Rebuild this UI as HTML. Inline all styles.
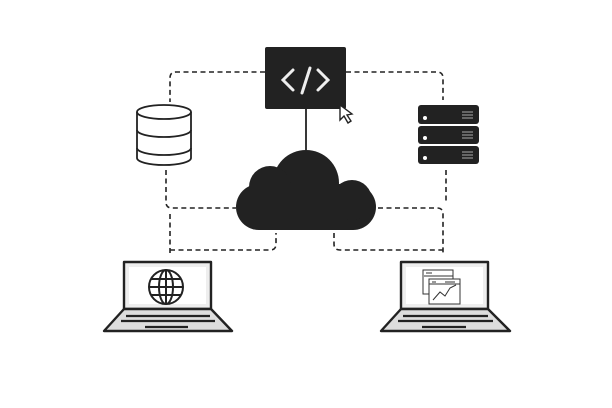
<!DOCTYPE html>
<html><head><meta charset="utf-8"><style>html,body{margin:0;padding:0;background:#fff}svg{display:block}</style></head>
<body>
<svg width="612" height="408" viewBox="0 0 612 408" xmlns="http://www.w3.org/2000/svg">
<g fill="none" stroke="#222" stroke-width="1.6" stroke-dasharray="5,3.5">
<path d="M265 72 H176 Q170 72 170 78 V102"/>
<path d="M346 72 H437 Q443 72 443 78 V100"/>
<path d="M166 170 V202 Q166 208 172 208 H236"/>
<path d="M170 214 V255"/>
<path d="M170 250 H270 Q276 250 276 244 V233"/>
<path d="M446 170 V202"/>
<path d="M378 208 H437 Q443 208 443 214 V255"/>
<path d="M334 233 V244 Q334 250 340 250 H443"/>
</g>
<line x1="306" y1="109" x2="306" y2="150" stroke="#222" stroke-width="1.8"/>
<rect x="265" y="47" width="81" height="62" rx="2" fill="#222"/>
<g stroke="#eee" stroke-width="3" fill="none" stroke-linecap="round">
<path d="M293 70 L283 80 L293 90"/><path d="M318 70 L328 80 L318 90"/><path d="M310 68 L302 93"/>
</g>
<path d="M340 105 L340 120 L344 116 L348 123 L351 121 L347 115 L352 114 Z" fill="#fff" stroke="#222" stroke-width="1.4"/>
<g fill="#222">
<circle cx="306" cy="183" r="33"/>
<circle cx="270" cy="187" r="21"/>
<rect x="236" y="184" width="140" height="46" rx="23"/>
<circle cx="352" cy="200" r="20"/>
</g>
<g fill="#fff" stroke="#222" stroke-width="1.8">
<path d="M137 112 V158 A27 7 0 0 0 191 158 V112"/>
<path d="M137 130 A27 7 0 0 0 191 130" fill="none"/>
<path d="M137 148 A27 7 0 0 0 191 148" fill="none"/>
<ellipse cx="164" cy="112" rx="27" ry="7"/>
</g>
<g fill="#222">
<rect x="418" y="105" width="61" height="19" rx="3"/>
<rect x="418" y="126" width="61" height="18" rx="3"/>
<rect x="418" y="146" width="61" height="18" rx="3"/>
</g>
<g fill="#fff"><circle cx="425" cy="118" r="2"/><circle cx="425" cy="138" r="2"/><circle cx="425" cy="158" r="2"/></g>
<g stroke="#aaa" stroke-width="1"><path d="M462 112h11M462 115h11M462 118h11M462 132h11M462 135h11M462 138h11M462 152h11M462 155h11M462 158h11"/></g>
<g stroke="#222" stroke-width="2.4" stroke-linejoin="round">
<rect x="124" y="262" width="87" height="47" fill="#eee"/>
<rect x="129" y="267" width="77" height="37" fill="#fff" stroke="none"/>
<path d="M124 309 H211 L232 331 H104 Z" fill="#ddd"/>
<rect x="401" y="262" width="87" height="47" fill="#eee"/>
<rect x="406" y="267" width="77" height="37" fill="#fff" stroke="none"/>
<path d="M401 309 H488 L510 331 H381 Z" fill="#ddd"/>
</g>
<g stroke="#222" stroke-width="2.2"><path d="M126 316H210M121 321H215M145 327H188M403 316H488M398 321H493M422 327H466"/></g>
<g fill="none" stroke="#222" stroke-width="2">
<circle cx="166" cy="287" r="17"/><ellipse cx="166" cy="287" rx="7" ry="17"/>
<path d="M166 270V304M149 287H183M151 279H181M151 295H181"/>
</g>
<g fill="#fff" stroke="#333" stroke-width="1">
<rect x="423" y="270" width="30" height="24"/>
<rect x="429" y="279" width="31" height="25"/>
<path d="M429 284H460M433 300 L440 292 L445 296 L450 288 L456 285"/>
<path d="M426 273h6M424 276h29M432 282h4M445 282h10"/>
</g>
</svg>
</body></html>
